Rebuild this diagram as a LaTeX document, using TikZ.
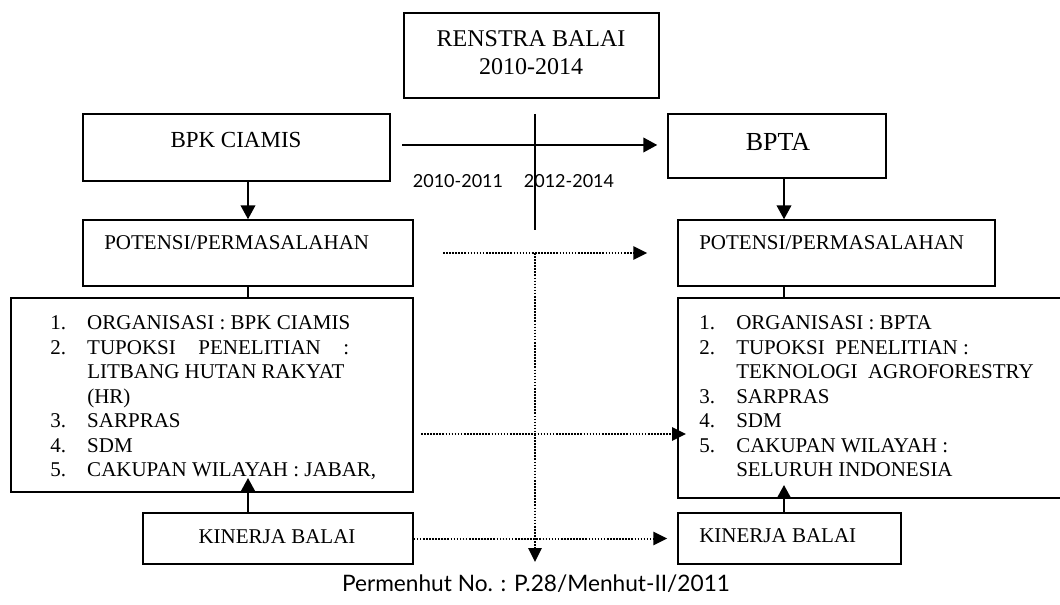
\documentclass[tikz,border=0pt]{standalone}
\usepackage{fontspec}
\setmainfont{Liberation Serif}
\newfontfamily\gillfont{Lato}
\usetikzlibrary{arrows.meta,fit}
\begin{document}
\begin{tikzpicture}[x=0.75pt,y=-0.75pt,
  box/.style={draw, line width=1.1pt, inner sep=0pt},
  arr/.style={line width=1.5pt, -{Triangle[length=10.5pt,width=11pt]}},
  plain/.style={line width=1.5pt},
  dot/.style={line width=1.5pt, dash pattern=on 1.2pt off 1.1pt},
  dotarr/.style={dot, -{Triangle[length=10.5pt,width=10pt]}},
  small/.style={font=\fontsize{15.75pt}{18.4pt}\selectfont, inner sep=0pt},
  yr/.style={font=\gillfont\fontsize{13.5pt}{16pt}\selectfont, inner sep=0pt, anchor=base}
]
\clip (0,0) rectangle (1060,605);
\fill[white] (0,0) rectangle (1060,605);

% boxes
\node[box, fit={(404,13) (659,98)}] (renstra) {};
\node[box, fit={(83,114) (390,181)}] (bpk) {};
\node[box, fit={(668,114) (886,178)}] (bpta) {};
\node[box, fit={(83,220) (413,286)}] (potL) {};
\node[box, fit={(678,220) (995,286)}] (potR) {};
\node[box, fit={(11,298) (413,492)}] (listL) {};
\node[box, fit={(678,298) (1075,498)}] (listR) {};
\node[box, fit={(143,513) (413,564)}] (kinL) {};
\node[box, fit={(678,513) (901,564)}] (kinR) {};

% texts
\node[inner sep=0pt, align=center, font=\fontsize{18pt}{21pt}\selectfont, anchor=base] (tRen) at (531,75) {RENSTRA BALAI\\2010-2014};
\node[inner sep=0pt, font=\fontsize{17.25pt}{20pt}\selectfont, anchor=base] (tBpk) at (236,148) {BPK CIAMIS};
\node[inner sep=0pt, font=\fontsize{19.5pt}{22pt}\selectfont, anchor=base] (tBpta) at (778,151) {BPTA};
\node[small, anchor=base west] (tPotL) at (104,250) {POTENSI/PERMASALAHAN};
\node[small, anchor=base west] (tPotR) at (699,250) {POTENSI/PERMASALAHAN};
\node[small, anchor=base] (tKinL) at (277,543) {KINERJA BALAI};
\node[small, anchor=base west] (tKinR) at (699,542) {KINERJA BALAI};

\node[small, anchor=base west, align=left] (tListL) at (50,477) {%
\makebox[27.75pt][l]{1.}ORGANISASI : BPK CIAMIS\\
\makebox[27.75pt][l]{2.}\makebox[196.5pt][s]{TUPOKSI PENELITIAN :}\\
\makebox[27.75pt][l]{}LITBANG HUTAN RAKYAT\\
\makebox[27.75pt][l]{}(HR)\\
\makebox[27.75pt][l]{3.}SARPRAS\\
\makebox[27.75pt][l]{4.}SDM\\
\makebox[27.75pt][l]{5.}CAKUPAN WILAYAH : JABAR,};

\node[small, anchor=base west, align=left] (tListR) at (699,477) {%
\makebox[27.75pt][l]{1.}ORGANISASI : BPTA\\
\makebox[27.75pt][l]{2.}TUPOKSI\ \ PENELITIAN :\\
\makebox[27.75pt][l]{}TEKNOLOGI\ \ AGROFORESTRY\\
\makebox[27.75pt][l]{3.}SARPRAS\\
\makebox[27.75pt][l]{4.}SDM\\
\makebox[27.75pt][l]{5.}CAKUPAN WILAYAH :\\
\makebox[27.75pt][l]{}SELURUH INDONESIA};

\node[yr] (y1) at (458,188) {2010-2011};
\node[yr] (y2) at (569,188) {2012-2014};
\node[inner sep=0pt, anchor=base, font=\gillfont\fontsize{17pt}{20pt}\selectfont] (foot) at (536,591) {Permenhut No. : P.28/Menhut-II/2011};

% helper coordinates
\coordinate (rcol) at (784,300);
\coordinate (kLtip) at (248,478);
\coordinate (kRtip) at (784,485);
\coordinate (hStart) at (402,145);
\coordinate (vTop) at (535,114);
\coordinate (vBot) at (535,230);
\coordinate (d1Start) at (443,253);
\coordinate (d1Junc) at (535,253);
\coordinate (dDown) at (535,562);
\coordinate (d2Start) at (421,434);
\coordinate (d2Tip) at (686,434);

% solid connectors
\draw[arr] (bpk.south -| potL.north) -- (potL.north);
\draw[plain] (potL.south) -- (potL.south |- listL.north);
\draw[arr] (kinL.north -| kLtip) -- (kLtip);
\draw[arr] (bpta.south -| rcol) -- (potR.north -| rcol);
\draw[plain] (potR.south -| rcol) -- (listR.north -| rcol);
\draw[arr] (kinR.north -| kRtip) -- (kRtip);
\draw[arr, shorten >=7.5pt] (hStart) -- (bpta.west |- hStart);
\draw[line width=1.1pt] (vTop) -- (vBot);

% dotted connectors
\draw[dotarr, shorten >=22.5pt] (d1Start) -- (potR.west |- d1Start);
\draw[dotarr] (d1Junc) -- (dDown);
\draw[dotarr] (d2Start) -- (d2Tip);
\draw[dotarr, shorten >=7.5pt] (kinL.east) -- (kinR.west |- kinL.east);
\end{tikzpicture}
\end{document}
